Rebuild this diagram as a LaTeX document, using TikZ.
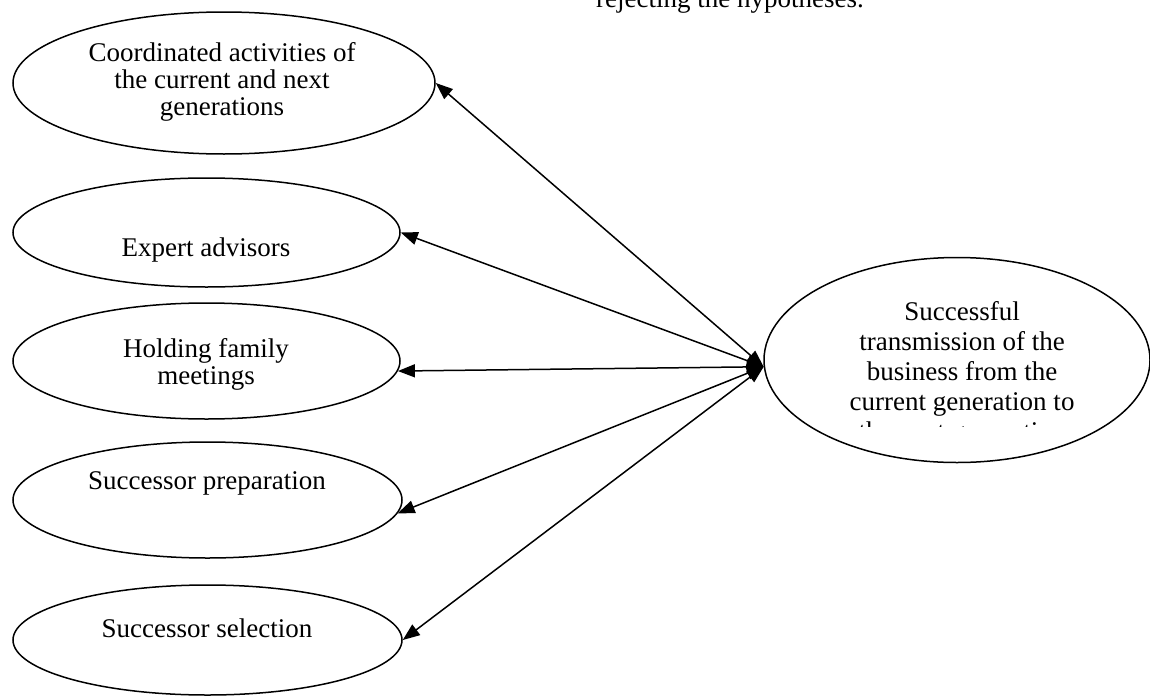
\documentclass[tikz,border=0pt]{standalone}
\usepackage{fontspec}
\setmainfont{Liberation Serif}
\usetikzlibrary{arrows.meta,shapes}

\begin{document}
\begin{tikzpicture}[x=0.5pt,y=-0.5pt,
    oval/.style={ellipse,draw,line width=0.75pt,inner sep=0pt},
    txt/.style={align=center,inner sep=0pt,font=\fontsize{13.5}{13.5}\selectfont},
    link/.style={{Triangle[length=8.5pt,width=6.5pt]}-{Triangle[length=8.5pt,width=6.5pt]},line width=0.75pt}]
    \useasboundingbox (0,0) rectangle (1150,696);
    \node[txt,anchor=base] (note) at (730,7) {rejecting the hypotheses.};

    % factors on the left
    \node[oval,minimum width=211pt,minimum height=71pt] (v1) at (224,83) {};
    \node[oval,minimum width=193.5pt,minimum height=54.5pt] (v2) at (206.5,232.5) {};
    \node[oval,minimum width=193.5pt,minimum height=58pt] (v3) at (206.5,361) {};
    \node[oval,minimum width=194.5pt,minimum height=58pt] (v4) at (207.5,500) {};
    \node[oval,minimum width=194.5pt,minimum height=55pt] (v5) at (207.5,640) {};
    \node[txt] (t1) at (222,82) {Coordinated activities of\\the current and next\\generations};
    \node[txt] (t2) at (206,250) {Expert advisors};
    \node[txt] (t3) at (206,364) {Holding family\\meetings};
    \node[txt] (t4) at (207,483) {Successor preparation};
    \node[txt] (t5) at (207,628) {Successor selection};

    % outcome
    \node[oval,minimum width=193pt,minimum height=102.5pt] (v6) at (957,360) {};
    \begin{scope}
        \clip (765,250) rectangle (1150,426);
        \node[txt,font=\fontsize{13.5}{15}\selectfont] (t6) at (962,374) {Successful\\transmission of the\\business from the\\current generation to\\the next generation};
    \end{scope}

    \draw[link] (v1.east) -- (v6.182);
    \draw[link] (v2.east) -- (v6.182);
    \draw[link] (v3.357) -- (v6.182);
    \draw[link] (v4.356) -- (v6.182);
    \draw[link] (v5.east) -- (v6.182);
\end{tikzpicture}
\end{document}
